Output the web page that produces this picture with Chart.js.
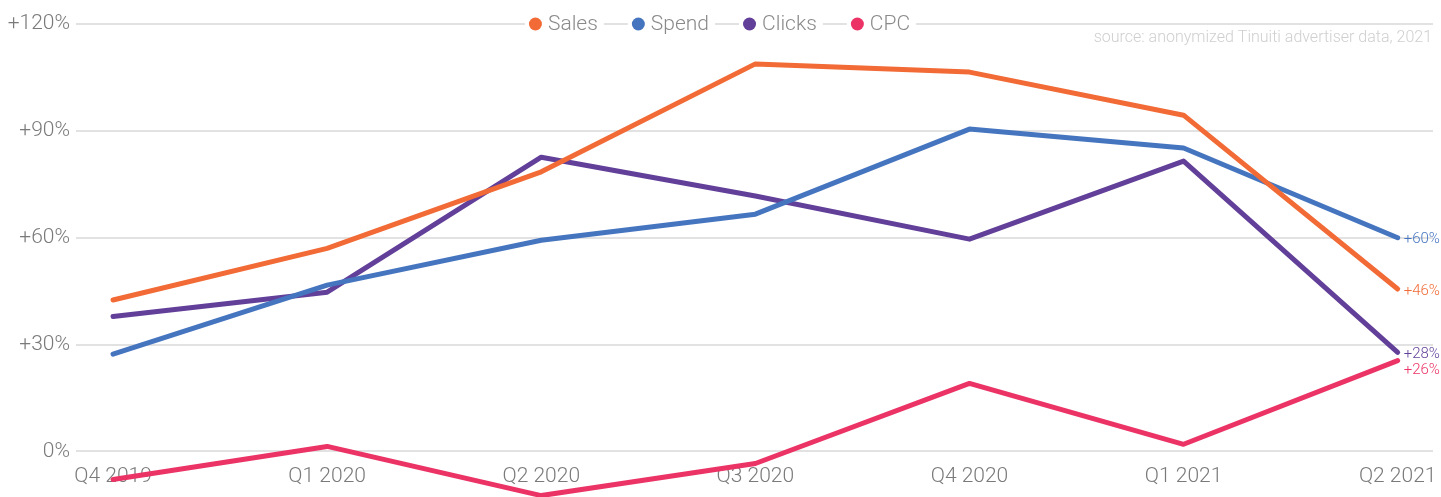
<!DOCTYPE html>
<html>
<head>
<meta charset="utf-8">
<script src="https://cdn.jsdelivr.net/npm/chart.js@4/dist/chart.umd.min.js"></script>
<style>
  html, body { margin: 0; padding: 0; background: #fff; }
  #wrap { width: 1441px; height: 497px; }
</style>
</head>
<body>
<div id="wrap"><canvas id="grafica" width="1441" height="497"></canvas></div>
<script>
// ==============================
// DATOS
// ==============================
const quarters = ["Q4 2019", "Q1 2020", "Q2 2020", "Q3 2020", "Q4 2020", "Q1 2021", "Q2 2021"];
const sales  = [42.5, 57, 78.5, 108.8, 106.5, 94.4, 45.6];
const spend  = [27.3, 46.7, 59.3, 66.6, 90.5, 85.2, 60.0];
const clicks = [37.9, 44.7, 82.6, 71.7, 59.6, 81.5, 27.8];
const cpc    = [-7.9, 1.4, -12.4, -3.4, 19.1, 2.0, 25.5];
const endLabels = ["+46%", "+60%", "+28%", "+26%"];
const yTicks = [0, 30, 60, 90, 120];
const sourceText = "source: anonymized Tinuiti advertiser data, 2021";

const seriesNames = ["Sales", "Spend", "Clicks", "CPC"];
const seriesData = [sales, spend, clicks, cpc];
const colores = ["#f26a35", "#4675c0", "#623f99", "#ec3366"];

const FONT = "Roboto, 'Open Sans', sans-serif";
const GREY = "#7a7a7a";

// ==============================
// PLUGIN: etiquetas, leyenda, fuente
// ==============================
const extras = {
  id: "extras",
  beforeDatasetsDraw(chart) {
    const ctx = chart.ctx;
    const x = chart.scales.x;
    const y = chart.scales.y;
    const yLab = y.getPixelForValue(0) + 25;
    ctx.save();
    ctx.font = "300 21px " + FONT;
    ctx.fillStyle = GREY;
    ctx.textAlign = "center";
    ctx.textBaseline = "middle";
    quarters.forEach((q, i) => ctx.fillText(q, x.getPixelForValue(i), yLab));

    // source
    ctx.font = "300 16px " + FONT;
    ctx.fillStyle = "#cfcfcf";
    ctx.textAlign = "right";
    ctx.fillText(sourceText, chart.chartArea.right - 1, y.getPixelForValue(120) + 14);

    // legend over the top gridline
    const yLeg = y.getPixelForValue(120);
    ctx.font = "300 21px " + FONT;
    const r = 6.5, gapDot = 8, gapItem = 32;
    const widths = seriesNames.map(n => 2 * r + gapDot + ctx.measureText(n).width);
    const total = widths.reduce((a, b) => a + b, 0) + gapItem * (widths.length - 1);
    let cx = (chart.width - total) / 2;
    seriesNames.forEach((n, i) => {
      ctx.fillStyle = "#fff";
      ctx.fillRect(cx - 4, yLeg - 12, widths[i] + 8, 24);
      ctx.fillStyle = colores[i];
      ctx.beginPath();
      ctx.arc(cx + r, yLeg, r, 0, Math.PI * 2);
      ctx.fill();
      ctx.fillStyle = "#8a8a8a";
      ctx.textAlign = "left";
      ctx.fillText(n, cx + 2 * r + gapDot - 2, yLeg + 1);
      cx += widths[i] + gapItem;
    });
    ctx.restore();
  },
  afterDatasetsDraw(chart) {
    const ctx = chart.ctx;
    const x = chart.scales.x;
    const y = chart.scales.y;
    const last = quarters.length - 1;
    const px = x.getPixelForValue(last) + 6;
    const items = seriesData.map((d, i) => ({ i, py: y.getPixelForValue(d[last]) + 2 }));
    items.sort((a, b) => a.py - b.py);
    for (let k = 1; k < items.length; k++) {
      if (items[k].py - items[k - 1].py < 16) items[k].py = items[k - 1].py + 16;
    }
    ctx.save();
    ctx.font = "300 15px " + FONT;
    ctx.textAlign = "left";
    ctx.textBaseline = "middle";
    items.forEach(it => {
      ctx.fillStyle = colores[it.i];
      ctx.fillText(endLabels[it.i], px, it.py);
    });
    ctx.restore();
  }
};

// ==============================
// GRAFICA
// ==============================
new Chart(document.getElementById("grafica"), {
  type: "line",
  data: {
    datasets: seriesNames.map((n, i) => ({
      label: n,
      data: seriesData[i].map((v, k) => ({ x: k, y: v })),
      borderColor: colores[i],
      backgroundColor: colores[i],
      borderWidth: 5,
      borderCapStyle: "round",
      borderJoinStyle: "round",
      pointRadius: 0,
      tension: 0,
      clip: false
    }))
  },
  options: {
    responsive: false,
    animation: false,
    devicePixelRatio: 1,
    layout: { padding: { top: 24, right: 8, bottom: 0, left: 0 } },
    plugins: { legend: { display: false }, tooltip: { enabled: false } },
    scales: {
      x: {
        type: "linear",
        display: false,
        min: -0.173,
        max: 6.165
      },
      y: {
        min: -12.8,
        max: 120,
        afterBuildTicks: axis => { axis.ticks = yTicks.map(v => ({ value: v })); },
        afterFit: s => { s.width = 76; s.paddingTop = 0; s.paddingBottom = 0; },
        border: { display: false },
        grid: { color: "#e2e2e2", lineWidth: 2, drawTicks: false },
        ticks: {
          padding: 6,
          color: GREY,
          font: { family: FONT, size: 21, weight: "300" },
          callback: v => v === 0 ? "0%" : "+" + v + "%"
        }
      }
    }
  },
  plugins: [extras]
});
</script>
</body>
</html>
